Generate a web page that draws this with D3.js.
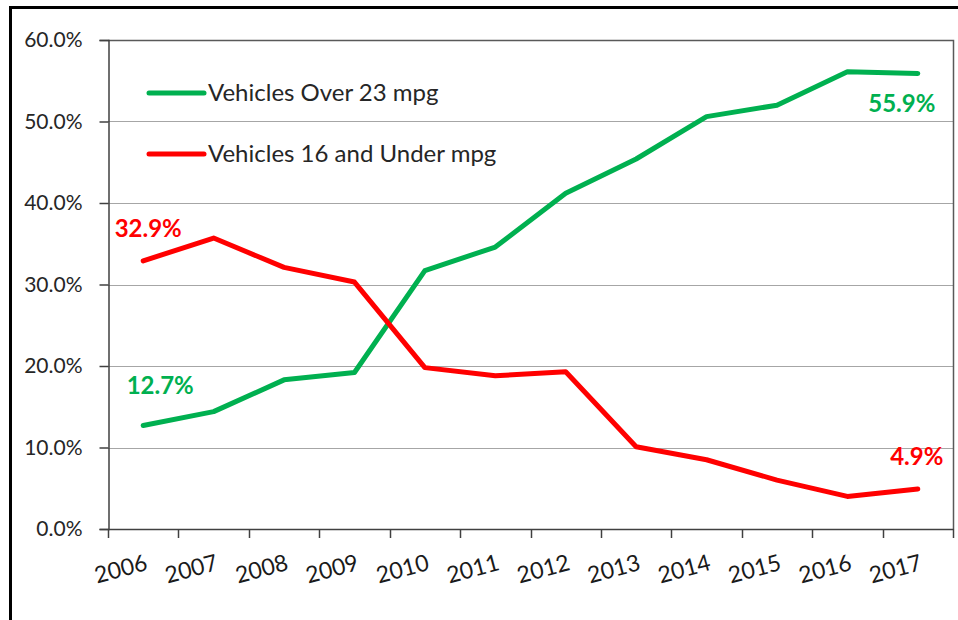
<!DOCTYPE html>
<html>
<head>
<meta charset="utf-8">
<script src="https://cdn.jsdelivr.net/npm/d3@7"></script>
<style>
  html, body { margin: 0; padding: 0; background: #fff; }
  svg { display: block; font-family: Lato, "Open Sans", sans-serif; }
</style>
</head>
<body>
<svg id="chart" width="958" height="620"></svg>
<script>
// Fuel-economy mix of the vehicle fleet, by model year
const years = ["2006","2007","2008","2009","2010","2011","2012","2013","2014","2015","2016","2017"];
const over23 = [12.7, 14.4, 18.3, 19.2, 31.7, 34.6, 41.2, 45.4, 50.6, 52.0, 56.1, 55.9];
const under16 = [32.9, 35.7, 32.1, 30.3, 19.8, 18.8, 19.3, 10.1, 8.5, 6.0, 4.0, 4.9];
const yTicks = [0, 10, 20, 30, 40, 50, 60];

const series = [
  { name: "Vehicles Over 23 mpg", values: over23, color: "#00B050" },
  { name: "Vehicles 16 and Under mpg", values: under16, color: "#FF0000" }
];

const svg = d3.select("#chart");
const plot = { left: 108, right: 953, top: 40, bottom: 529 };

const x = d3.scaleBand().domain(years).range([plot.left, plot.right]);
const y = d3.scaleLinear().domain([0, 60]).range([plot.bottom, plot.top]);

// outer frame
svg.append("path")
  .attr("d", `M10.5,${620 + 5} V7.5 H${958 + 5}`)
  .attr("fill", "none").attr("stroke", "#000").attr("stroke-width", 3);

// horizontal gridlines
svg.append("g").selectAll("line").data(yTicks.filter(t => t > 0 && t < 60)).join("line")
  .attr("x1", plot.left).attr("x2", plot.right)
  .attr("y1", d => Math.round(y(d)) + 0.5).attr("y2", d => Math.round(y(d)) + 0.5)
  .attr("stroke", "#A6A6A6").attr("stroke-width", 1);

// plot border: top and right
svg.append("path")
  .attr("d", `M${plot.left},${plot.top + 0.5} H${plot.right + 0.5} V${plot.bottom}`)
  .attr("fill", "none").attr("stroke", "#595959").attr("stroke-width", 1.5);

// y axis
const yAxis = d3.axisLeft(y).tickValues(yTicks).tickSize(9).tickPadding(17)
  .tickFormat(d => d.toFixed(1) + "%");
const gy = svg.append("g").attr("transform", `translate(${plot.left + 0.5},0)`).call(yAxis);
gy.select(".domain").attr("stroke", "#404040").attr("stroke-width", 1.5);
gy.selectAll(".tick line").attr("stroke", "#404040").attr("stroke-width", 1.5);
gy.selectAll(".tick text").attr("font-size", 21).attr("fill", "#262626")
  .attr("font-family", "Lato, sans-serif");

// x axis: ticks on band boundaries
const gx = svg.append("g");
gx.append("line")
  .attr("x1", plot.left).attr("x2", plot.right + 1)
  .attr("y1", plot.bottom + 0.5).attr("y2", plot.bottom + 0.5)
  .attr("stroke", "#404040").attr("stroke-width", 1.5);
const bounds = years.map(d => x(d)).concat([plot.right]);
gx.selectAll("line.tk").data(bounds).join("line").attr("class", "tk")
  .attr("x1", d => Math.round(d) + 0.5).attr("x2", d => Math.round(d) + 0.5)
  .attr("y1", plot.bottom).attr("y2", plot.bottom + 9)
  .attr("stroke", "#404040").attr("stroke-width", 1.5);
gx.selectAll("text").data(years).join("text")
  .attr("transform", d => `translate(${x(d) + x.bandwidth() / 2 + 1},${plot.bottom + 24}) rotate(-15)`)
  .attr("text-anchor", "end").attr("dy", "0.75em")
  .attr("font-size", 23).attr("fill", "#1a1a1a")
  .text(d => d);

// series lines
const line = d3.line()
  .x((d, i) => x(years[i]) + x.bandwidth() / 2)
  .y(d => y(d));
svg.append("g").selectAll("path").data(series).join("path")
  .attr("d", d => line(d.values))
  .attr("fill", "none").attr("stroke", d => d.color)
  .attr("stroke-width", 5).attr("stroke-linejoin", "round").attr("stroke-linecap", "round");

// legend
const legend = svg.append("g").selectAll("g").data(series).join("g")
  .attr("transform", (d, i) => `translate(149,${93 + i * 61})`);
legend.append("line").attr("x1", 0).attr("x2", 55)
  .attr("stroke", d => d.color).attr("stroke-width", 5).attr("stroke-linecap", "round");
legend.append("text").attr("x", 59).attr("dy", "0.35em")
  .attr("font-size", 24).attr("fill", "#262626").text(d => d.name);

// end-point value labels
const labels = [
  { s: 1, i: 0, dx: 5, dy: -32, anchor: "middle" },
  { s: 0, i: 0, dx: 17, dy: -40, anchor: "middle" },
  { s: 0, i: 11, dx: -16, dy: 30, anchor: "middle" },
  { s: 1, i: 11, dx: -1, dy: -32, anchor: "middle" }
];
svg.append("g").selectAll("text").data(labels).join("text")
  .attr("x", d => x(years[d.i]) + x.bandwidth() / 2 + d.dx)
  .attr("y", d => y(series[d.s].values[d.i]) + d.dy)
  .attr("dy", "0.35em")
  .attr("text-anchor", d => d.anchor)
  .attr("font-size", 24).attr("font-weight", "bold")
  .attr("fill", d => series[d.s].color)
  .text(d => series[d.s].values[d.i].toFixed(1) + "%");
</script>
</body>
</html>
